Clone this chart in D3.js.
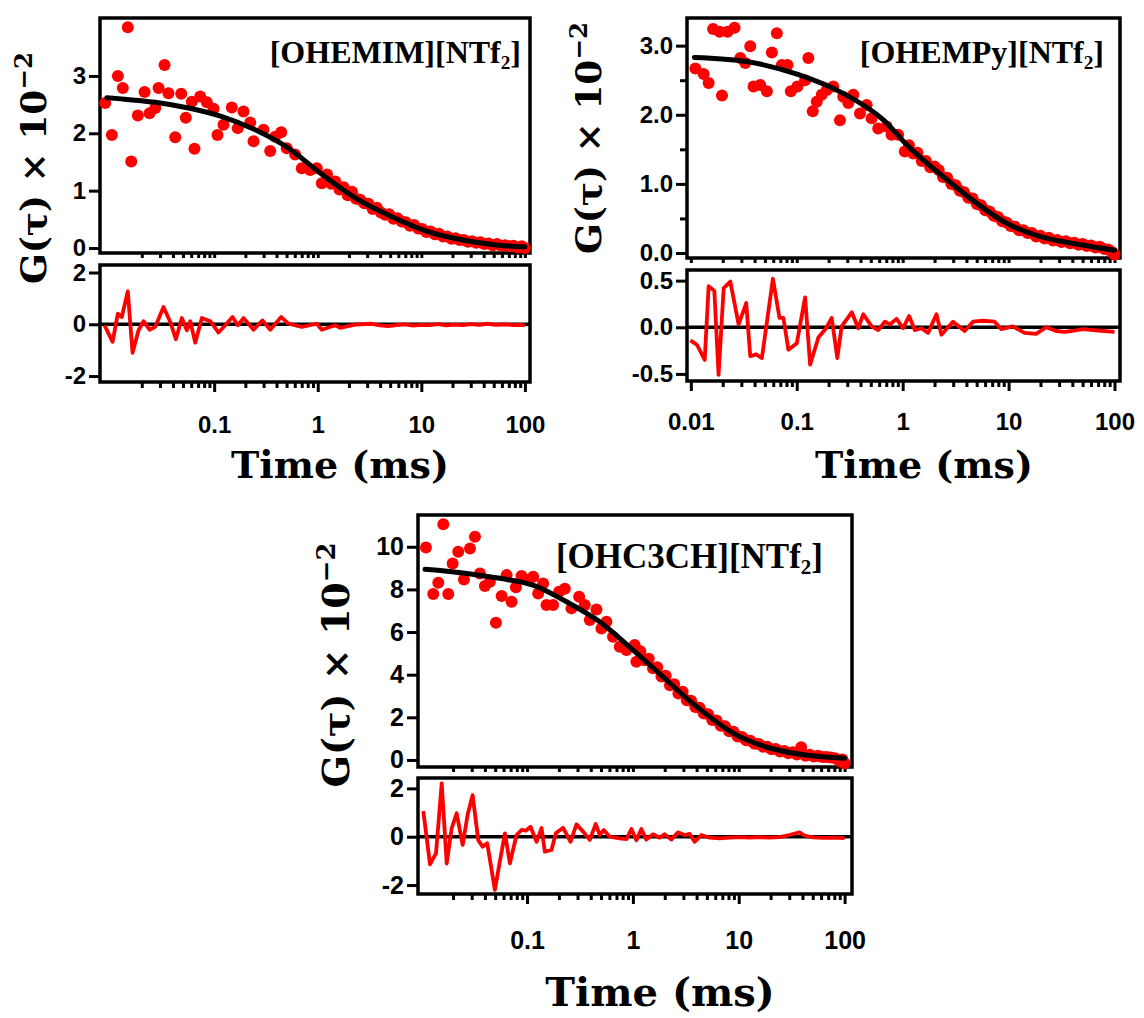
<!DOCTYPE html>
<html>
<head>
<meta charset="utf-8">
<script src="https://cdn.jsdelivr.net/npm/d3@7"></script>
<style>
body { margin: 0; background: #fff; }
svg { display: block; }
</style>
</head>
<body>
<div id="chart"></div>
<script>
// ---- [OHEMIM][NTf2] ----
var ohemimTau = [0.00887, 0.01028, 0.01175, 0.01312, 0.01466, 0.01581, 0.01832, 0.02128, 0.02377, 0.02698,
    0.02904, 0.03319, 0.03622, 0.04207, 0.04808, 0.05321, 0.06081, 0.06457, 0.07328, 0.08492,
    0.09863, 0.1076, 0.1230, 0.1479, 0.1690, 0.1919, 0.2228, 0.2399, 0.2992, 0.3475,
    0.3882, 0.4436, 0.5023, 0.6053, 0.7015, 0.8453, 0.9795, 1.094,
    1.23, 1.35, 1.48, 1.62, 1.78, 1.95, 2.14, 2.34, 2.57, 2.82,
    3.09, 3.39, 3.72, 4.07, 4.47, 4.90, 5.37, 5.89, 6.46, 7.08,
    7.76, 8.51, 9.33, 10.2, 11.2, 12.3, 13.5, 14.8, 16.2, 17.8,
    19.5, 21.4, 23.4, 25.7, 28.2, 30.9, 33.9, 37.2, 40.7, 44.7,
    49.0, 53.7, 58.9, 64.6, 70.8, 77.6, 85.1, 93.3, 100];
var ohemimG = [2.53, 1.97, 3.00, 2.79, 3.85, 1.51, 2.31, 2.72, 2.35, 2.44,
    2.79, 3.19, 2.70, 1.93, 2.69, 2.27, 2.55, 1.73, 2.64, 2.54,
    2.43, 1.97, 2.15, 2.45, 2.09, 2.38, 2.19, 1.86, 2.06, 1.69,
    1.94, 2.02, 1.74, 1.63, 1.39, 1.36, 1.39, 1.13,
    1.28, 1.12, 1.16, 1.02, 1.06, 0.92, 0.98, 0.86, 0.84, 0.78,
    0.77, 0.68, 0.70, 0.62, 0.58, 0.59, 0.51, 0.52, 0.46, 0.45,
    0.39, 0.40, 0.34, 0.33, 0.28, 0.29, 0.24, 0.25, 0.20, 0.20,
    0.16, 0.17, 0.14, 0.14, 0.11, 0.12, 0.09, 0.10, 0.07, 0.08,
    0.05, 0.07, 0.04, 0.05, 0.03, 0.04, 0.01, 0.03, 0.00];
var ohemimFitTau = [0.0092, 0.0128, 0.027, 0.0565, 0.119, 0.249, 0.522, 1.07, 2.32, 5.14, 11.4, 25.1, 55.6, 100];
var ohemimFitG = [2.62, 2.60, 2.54, 2.44, 2.29, 2.06, 1.74, 1.30, 0.87, 0.55, 0.29, 0.14, 0.05, 0.02];
var ohemimResTau = [0.00875, 0.01045, 0.01175, 0.01282, 0.01466, 0.01629, 0.01862, 0.02080, 0.02377, 0.02698,
    0.03243, 0.03767, 0.04266, 0.04875, 0.05445, 0.05875, 0.06561, 0.07603, 0.09163, 0.1102,
    0.1279, 0.1503, 0.1690, 0.1919, 0.2399, 0.2931, 0.3475, 0.4436, 0.5224, 0.7015,
    0.9795, 1.094, 1.472, 1.648, 2.296, 3.31, 3.98, 4.79, 5.75, 6.92,
    8.32, 10.0, 12.0, 14.5, 17.4, 20.9, 25.1, 30.2, 36.3, 43.7,
    52.5, 63.1, 75.9, 91.2, 100];
var ohemimResG = [-0.04, -0.68, 0.41, 0.28, 1.27, -1.10, -0.23, 0.12, -0.21, -0.10,
    0.67, 0.09, -0.58, 0.24, -0.23, 0.12, -0.71, 0.24, 0.12, -0.32,
    -0.04, 0.28, -0.04, 0.24, -0.21, 0.15, -0.21, 0.28, 0.02, -0.10,
    0.02, -0.21, -0.04, -0.14, -0.01, 0.02, -0.04, -0.07, -0.03, 0.00,
    -0.05, -0.02, -0.03, 0.01, -0.04, -0.01, -0.03, 0.01, -0.02, 0.02,
    -0.02, 0.00, -0.03, -0.02, -0.04];
var ohemimYTicks = [0, 1, 2, 3];
var ohemimResTicks = [-2, 0, 2];
var ohemimXLabels = [0.1, 1, 10, 100];

// ---- [OHEMPy][NTf2] ----
var ohempyTau = [0.01104, 0.01321, 0.01472, 0.01622, 0.01871, 0.01968, 0.02223, 0.02588, 0.02931, 0.03266,
    0.03639, 0.03908, 0.04519, 0.05224, 0.05821, 0.06486, 0.07228, 0.08166, 0.08790, 0.1014,
    0.1199, 0.1288, 0.1416, 0.1545, 0.1722, 0.1919, 0.2213, 0.2559, 0.2748, 0.3069,
    0.3420, 0.3954, 0.4571, 0.5093, 0.5875, 0.7047, 0.7852, 0.9057, 1.047,
    1.148, 1.259, 1.380, 1.514, 1.660, 1.820, 1.995, 2.188, 2.399, 2.630,
    2.884, 3.162, 3.467, 3.802, 4.169, 4.571, 5.012, 5.495, 6.026, 6.607,
    7.244, 7.943, 8.710, 9.550, 10.47, 11.48, 12.59, 13.80, 15.14, 16.60,
    18.20, 19.95, 21.88, 23.99, 26.30, 28.84, 31.62, 34.67, 38.02, 41.69,
    45.71, 50.12, 54.95, 60.26, 66.07, 72.44, 79.43, 87.10, 95.50, 100];
var ohempyG = [2.67, 2.59, 2.46, 3.24, 3.20, 2.28, 3.20, 3.26, 2.82, 2.75,
    2.99, 2.41, 2.43, 2.34, 2.90, 3.18, 2.72, 2.72, 2.34, 2.41,
    2.50, 2.82, 2.05, 2.19, 2.29, 2.36, 2.41, 1.92, 2.26, 2.17,
    2.29, 2.02, 2.14, 1.95, 1.80, 1.83, 1.71, 1.71, 1.47,
    1.56, 1.44, 1.45, 1.33, 1.33, 1.24, 1.25, 1.20, 1.10, 1.09,
    1.00, 0.98, 0.90, 0.88, 0.80, 0.79, 0.71, 0.69, 0.62, 0.60,
    0.54, 0.52, 0.46, 0.44, 0.39, 0.38, 0.33, 0.33, 0.29, 0.29,
    0.24, 0.25, 0.21, 0.22, 0.18, 0.19, 0.16, 0.17, 0.14, 0.15,
    0.12, 0.13, 0.10, 0.11, 0.08, 0.09, 0.06, 0.05, 0.01, -0.02];
var ohempyFitTau = [0.0108, 0.0335, 0.104, 0.274, 0.665, 1.12, 2.62, 5.01, 9.57, 19.7, 48.1, 100];
var ohempyFitG = [2.83, 2.77, 2.58, 2.31, 1.92, 1.55, 1.06, 0.72, 0.43, 0.24, 0.12, 0.04];
var ohempyResTau = [0.00991, 0.01146, 0.01352, 0.01472, 0.01667, 0.01828, 0.02042, 0.02360, 0.02825, 0.03334,
    0.03639, 0.04140, 0.04688, 0.05957, 0.06871, 0.07482, 0.08337, 0.1002, 0.1199, 0.1337,
    0.1600, 0.1892, 0.2138, 0.2415, 0.2655, 0.3304, 0.3811, 0.4246, 0.5093, 0.5875,
    0.6792, 0.7568, 0.8750, 1.009, 1.151, 1.300, 1.503, 1.738, 2.084, 2.323,
    2.985, 3.846, 4.613, 5.728, 7.379, 8.531, 10.96, 14.13, 18.20, 22.59,
    28.12, 33.65, 39.8, 50.1, 63.1, 79.4, 100];
var ohempyResG = [-0.14, -0.19, -0.35, 0.44, 0.39, -0.51, 0.42, 0.49, 0.03, 0.26,
    -0.31, -0.29, -0.33, 0.52, 0.10, 0.10, -0.24, -0.17, 0.32, -0.40,
    -0.11, -0.01, 0.10, -0.33, 0.01, 0.16, -0.01, 0.14, 0.01, -0.03,
    0.06, 0.03, 0.09, -0.01, 0.12, -0.03, -0.01, -0.06, 0.14, -0.08,
    0.06, -0.04, 0.06, 0.07, 0.06, -0.02, 0.01, -0.06, -0.07, 0.00,
    -0.04, -0.05, -0.04, -0.02, -0.03, -0.04, -0.05];
var ohempyYTicks = [0, 1, 2, 3];
var ohempyYMinor = [0.5, 1.5, 2.5];
var ohempyResTicks = [-0.5, 0, 0.5];
var ohempyXLabels = [0.01, 0.1, 1, 10, 100];

// ---- [OHC3CH][NTf2] ----
var ohc3chTau = [0.01109, 0.01300, 0.01452, 0.01618, 0.01803, 0.01982, 0.02239, 0.02535, 0.02891, 0.03221,
    0.03589, 0.03999, 0.04457, 0.05082, 0.05754, 0.06412, 0.07145, 0.07852, 0.08872, 0.1026,
    0.1143, 0.1274, 0.1419, 0.1528, 0.1762, 0.2009, 0.2275, 0.2630, 0.3105, 0.3508,
    0.3917, 0.4529, 0.5047, 0.5623, 0.6486, 0.7516, 0.8690, 1.040, 1.079,
    1.175, 1.288, 1.413, 1.549, 1.698, 1.862, 2.042, 2.239, 2.455, 2.692,
    2.951, 3.236, 3.548, 3.890, 4.266, 4.677, 5.129, 5.623, 6.166, 6.761,
    7.413, 8.128, 8.913, 9.772, 10.72, 11.75, 12.88, 14.13, 15.49, 16.98,
    18.62, 20.42, 22.39, 24.55, 26.92, 29.51, 32.36, 35.48, 38.90, 42.66,
    46.77, 51.29, 56.23, 61.66, 67.61, 74.13, 81.28, 89.13, 95.5, 100];
var ohc3chG = [9.97, 7.78, 8.31, 11.06, 7.78, 9.22, 9.77, 8.47, 9.92, 10.47,
    8.75, 8.16, 8.36, 6.44, 7.69, 8.67, 7.42, 8.10, 8.63, 8.44,
    8.59, 7.81, 8.28, 7.27, 7.27, 7.89, 8.03, 7.11, 7.66, 7.27,
    6.56, 7.06, 6.17, 6.48, 5.78, 5.31, 5.16, 5.39, 4.61,
    5.10, 4.68, 4.75, 4.30, 4.35, 3.92, 3.95, 3.50, 3.55, 3.12,
    3.20, 2.80, 2.78, 2.48, 2.45, 2.18, 2.15, 1.88, 1.85, 1.60,
    1.58, 1.35, 1.32, 1.10, 1.08, 0.92, 0.90, 0.76, 0.75, 0.62,
    0.62, 0.50, 0.52, 0.40, 0.42, 0.32, 0.36, 0.26, 0.60, 0.20,
    0.24, 0.16, 0.20, 0.14, 0.14, 0.12, 0.08, -0.05, 0.02, -0.15];
var ohc3chFitTau = [0.01086, 0.0269, 0.0555, 0.114, 0.236, 0.486, 1.0, 1.78, 4.0, 8.93, 20.0, 44.6, 100];
var ohc3chFitG = [8.94, 8.75, 8.52, 8.20, 7.42, 6.48, 5.16, 4.05, 2.50, 1.25, 0.55, 0.22, 0.08];
var ohc3chResTau = [0.01047, 0.01211, 0.01380, 0.01563, 0.01742, 0.01941, 0.02163, 0.02466, 0.02748, 0.03062,
    0.03459, 0.03802, 0.04207, 0.04966, 0.05534, 0.06180, 0.06887, 0.07962, 0.08872, 0.09750,
    0.1079, 0.1230, 0.1371, 0.1472, 0.1702, 0.1871, 0.2193, 0.2576, 0.2931, 0.3388,
    0.3917, 0.4457, 0.4864, 0.5309, 0.6039, 0.7516, 0.8690, 0.9683, 1.079, 1.202,
    1.340, 1.549, 1.791, 1.995, 2.307, 2.667, 3.083, 3.436, 3.828, 4.436,
    5.309, 6.592, 8.185, 10.19, 12.65, 15.70, 19.54, 24.27, 30.13, 37.50,
    41.7, 50.1, 63.1, 79.4, 100];
var ohc3chResG = [1.06, -1.14, -0.69, 2.21, -1.11, 0.35, 0.97, -0.34, 0.92, 1.72,
    -0.14, -0.41, -0.27, -2.20, -1.03, 0.14, -1.10, 0.07, 0.28, 0.25,
    0.41, -0.21, 0.36, -0.62, -0.55, 0.14, 0.37, -0.21, 0.51, 0.21,
    -0.13, 0.53, 0.07, 0.28, 0.00, -0.07, -0.10, 0.32, -0.15, 0.32,
    -0.12, 0.10, -0.04, 0.10, -0.12, 0.18, 0.07, 0.12, -0.21, 0.07,
    -0.04, -0.07, -0.04, -0.02, -0.04, -0.02, -0.04, -0.02, 0.07, 0.18,
    0.05, -0.03, -0.05, -0.04, -0.06];
var ohc3chYTicks = [0, 2, 4, 6, 8, 10];
var ohc3chResTicks = [-2, 0, 2];
var ohc3chXLabels = [0.1, 1, 10, 100];

var red = "#ff0000";
var tickFont = "'Liberation Sans', Arial, sans-serif";
var serifFont = "'DejaVu Serif', serif";
var titleFont = "'Liberation Serif', 'Times New Roman', serif";

var panels = [
    {
        tau: ohemimTau, g: ohemimG, fitTau: ohemimFitTau, fitG: ohemimFitG,
        resTau: ohemimResTau, resG: ohemimResG,
        yTicks: ohemimYTicks, yMinor: [], resTicks: ohemimResTicks, xLabels: ohemimXLabels,
        fmt: function(d) { return String(d); },
        title: "[OHEMIM][NTf", titleX: 521, titleY: 63, titleSize: 32,
        left: 100, right: 530, mainTop: 18, mainBottom: 253, resTop: 265, resBottom: 382,
        xDomain: [0.0079, 112], yDomain: [-0.087, 4.01], resDomain: [-2.23, 2.29],
        minTick: 0.015, xPad: 24, fontSize: 24,
        yLabelX: 46, yLabelY: 168, yLabelSize: 36,
        timeX: 340, timeY: 478, timeSize: 38
    },
    {
        tau: ohempyTau, g: ohempyG, fitTau: ohempyFitTau, fitG: ohempyFitG,
        resTau: ohempyResTau, resG: ohempyResG,
        yTicks: ohempyYTicks, yMinor: ohempyYMinor, resTicks: ohempyResTicks, xLabels: ohempyXLabels,
        fmt: function(d) { return d.toFixed(1); },
        title: "[OHEMPy][NTf", titleX: 1104, titleY: 63, titleSize: 32,
        left: 687, right: 1120, mainTop: 18, mainBottom: 258, resTop: 270, resBottom: 381,
        xDomain: [0.0092, 112.7], yDomain: [-0.072, 3.40], resDomain: [-0.576, 0.614],
        minTick: 0.005, xPad: 22, fontSize: 24,
        yLabelX: 601, yLabelY: 138, yLabelSize: 36,
        timeX: 924, timeY: 478, timeSize: 38
    },
    {
        tau: ohc3chTau, g: ohc3chG, fitTau: ohc3chFitTau, fitG: ohc3chFitG,
        resTau: ohc3chResTau, resG: ohc3chResG,
        yTicks: ohc3chYTicks, yMinor: [], resTicks: ohc3chResTicks, xLabels: ohc3chXLabels,
        fmt: function(d) { return String(d); },
        title: "[OHC3CH][NTf", titleX: 823, titleY: 568, titleSize: 35,
        left: 418, right: 852, mainTop: 515, mainBottom: 767, resTop: 778, resBottom: 894,
        xDomain: [0.00933, 117.5], yDomain: [-0.33, 11.49], resDomain: [-2.37, 2.43],
        minTick: 0.015, xPad: 27, fontSize: 25,
        yLabelX: 349, yLabelY: 665, yLabelSize: 38,
        timeX: 660, timeY: 1006, timeSize: 40
    }
];

var svg = d3.select("#chart").append("svg")
    .attr("width", 1144)
    .attr("height", 1018);

function styleAxis(sel, size) {
    sel.select(".domain").remove();
    sel.selectAll("line").attr("stroke", "#000").attr("stroke-width", 3);
    sel.selectAll("text")
        .attr("fill", "#000")
        .attr("font-family", tickFont)
        .attr("font-weight", "bold")
        .attr("font-size", size);
}

function drawPanel(p) {
    var x = d3.scaleLog().domain(p.xDomain).range([p.left, p.right]);
    var y = d3.scaleLinear().domain(p.yDomain).range([p.mainBottom, p.mainTop]);
    var yRes = d3.scaleLinear().domain(p.resDomain).range([p.resBottom, p.resTop]);
    var g = svg.append("g");

    var isDecade = function(t) {
        var l = Math.log10(t);
        return Math.abs(l - Math.round(l)) < 1e-6;
    };
    var allTicks = x.ticks().filter(function(t) { return t >= p.minTick; });
    var majorTicks = allTicks.filter(isDecade);
    var minorTicks = allTicks.filter(function(t) { return !isDecade(t); });

    // short ticks under the main box
    g.append("g")
        .attr("transform", "translate(0," + p.mainBottom + ")")
        .call(d3.axisBottom(x).tickValues(allTicks).tickSize(5).tickFormat(""))
        .call(styleAxis, p.fontSize);

    // bottom x axis
    g.append("g")
        .attr("transform", "translate(0," + p.resBottom + ")")
        .call(d3.axisBottom(x).tickValues(minorTicks).tickSize(6).tickFormat(""))
        .call(styleAxis, p.fontSize);
    g.append("g")
        .attr("transform", "translate(0," + p.resBottom + ")")
        .call(d3.axisBottom(x).tickValues(majorTicks).tickSize(10).tickPadding(p.xPad)
            .tickFormat(function(d) {
                return p.xLabels.some(function(v) { return Math.abs(v - d) < 1e-9; }) ? String(d) : "";
            }))
        .call(styleAxis, p.fontSize);

    // y axes
    g.append("g")
        .attr("transform", "translate(" + p.left + ",0)")
        .call(d3.axisLeft(y).tickValues(p.yTicks).tickSize(11).tickPadding(3).tickFormat(p.fmt))
        .call(styleAxis, p.fontSize);
    if (p.yMinor.length) {
        g.append("g")
            .attr("transform", "translate(" + p.left + ",0)")
            .call(d3.axisLeft(y).tickValues(p.yMinor).tickSize(7).tickFormat(""))
            .call(styleAxis, p.fontSize);
    }
    g.append("g")
        .attr("transform", "translate(" + p.left + ",0)")
        .call(d3.axisLeft(yRes).tickValues(p.resTicks).tickSize(11).tickPadding(3).tickFormat(p.fmt))
        .call(styleAxis, p.fontSize);

    // frames
    g.append("rect")
        .attr("x", p.left).attr("y", p.mainTop)
        .attr("width", p.right - p.left).attr("height", p.mainBottom - p.mainTop)
        .attr("fill", "none").attr("stroke", "#000").attr("stroke-width", 3.5);
    g.append("rect")
        .attr("x", p.left).attr("y", p.resTop)
        .attr("width", p.right - p.left).attr("height", p.resBottom - p.resTop)
        .attr("fill", "none").attr("stroke", "#000").attr("stroke-width", 3.5);

    // data points
    g.append("g")
        .selectAll("circle")
        .data(d3.zip(p.tau, p.g))
        .enter()
        .append("circle")
        .attr("cx", function(d) { return x(d[0]); })
        .attr("cy", function(d) { return y(d[1]); })
        .attr("r", 6)
        .attr("fill", red);

    // fit
    var fitLine = d3.line()
        .curve(d3.curveMonotoneX)
        .x(function(d) { return x(d[0]); })
        .y(function(d) { return y(d[1]); });
    g.append("path")
        .datum(d3.zip(p.fitTau, p.fitG))
        .attr("fill", "none")
        .attr("stroke", "#000")
        .attr("stroke-width", 5)
        .attr("stroke-linecap", "round")
        .attr("d", fitLine);

    // residuals
    g.append("line")
        .attr("x1", p.left).attr("x2", p.right)
        .attr("y1", yRes(0)).attr("y2", yRes(0))
        .attr("stroke", "#000").attr("stroke-width", 3.5);
    var resLine = d3.line()
        .x(function(d) { return x(d[0]); })
        .y(function(d) { return yRes(d[1]); });
    g.append("path")
        .datum(d3.zip(p.resTau, p.resG))
        .attr("fill", "none")
        .attr("stroke", red)
        .attr("stroke-width", 3.8)
        .attr("stroke-linejoin", "round")
        .attr("d", resLine);

    // title
    var title = g.append("text")
        .attr("x", p.titleX).attr("y", p.titleY)
        .attr("text-anchor", "end")
        .attr("font-family", titleFont)
        .attr("font-weight", "bold")
        .attr("font-size", p.titleSize)
        .text(p.title);
    title.append("tspan").attr("font-size", p.titleSize * 0.6).attr("dy", 6).text("2");
    title.append("tspan").attr("dy", -6).text("]");

    // y label
    var yl = g.append("text")
        .attr("transform", "translate(" + p.yLabelX + "," + p.yLabelY + ") rotate(-90)")
        .attr("text-anchor", "middle")
        .attr("font-family", serifFont)
        .attr("font-weight", "bold")
        .attr("font-size", p.yLabelSize)
        .text("G(\u03c4) \u00d7 10");
    yl.append("tspan")
        .attr("font-size", p.yLabelSize * 0.68)
        .attr("dy", -p.yLabelSize * 0.38)
        .text("\u22122");

    // x label
    g.append("text")
        .attr("x", p.timeX).attr("y", p.timeY)
        .attr("text-anchor", "middle")
        .attr("font-family", serifFont)
        .attr("font-weight", "bold")
        .attr("font-size", p.timeSize)
        .text("Time (ms)");
}

panels.forEach(function(p) {
    drawPanel(p);
});
</script>
</body>
</html>
